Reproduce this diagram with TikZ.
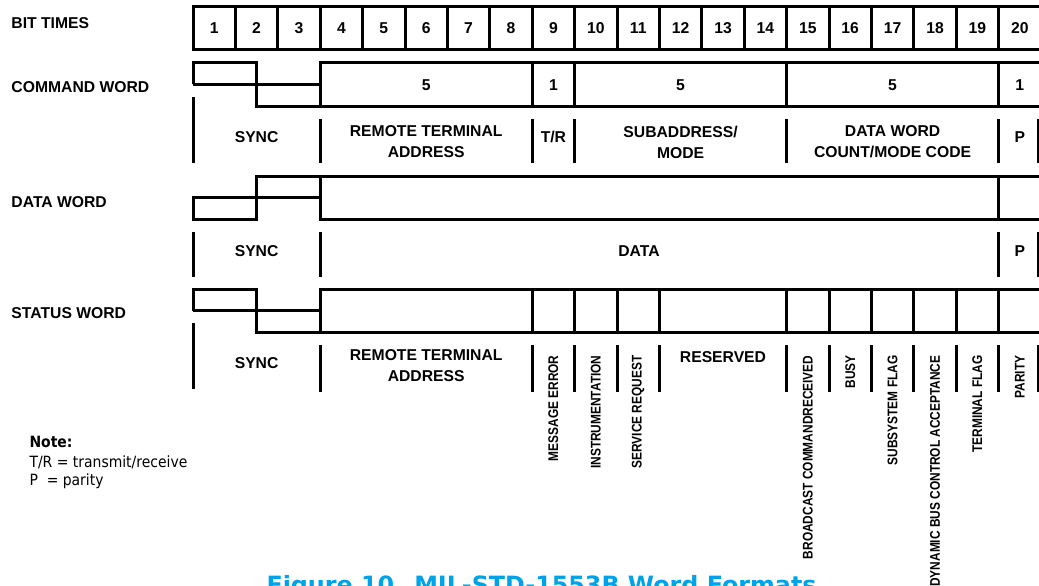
\documentclass[tikz,border=0pt]{standalone}
\usepackage{fontspec}
\setmainfont{Liberation Sans}
\newfontfamily\notefont{DejaVu Sans Condensed}
\newfontfamily\capfont{DejaVu Sans}
\definecolor{capblue}{RGB}{0,163,232}
\tikzset{
	wordlabel/.style={anchor=west, inner sep=0},
	flaglabel/.style={rotate=90, anchor=east, inner sep=0, font=\bfseries\fontsize{14}{16}\selectfont},
	notetext/.style={anchor=base west, inner sep=0, font=\notefont\fontsize{15.5}{18}\selectfont}
}
\newcommand\narrowtext[1]{\scalebox{0.85}[1]{#1}}
\begin{document}
\begin{tikzpicture}[x=1pt, y=-1pt, line width=3pt, font=\bfseries\fontsize{15.7}{21}\selectfont]
	\def\xo{193} % left edge of bit 1
	\def\w{42.4} % one bit time
	\def\xr{1038} % right bars
	\def\xe{1042} % lines run off the page
	\useasboundingbox (0,0) rectangle (1039,586);
	% bit times
	\node[wordlabel] (bittimes) at (10,23) {BIT TIMES};
	\draw (\xo,7) rectangle (\xe,50);
	\foreach \i in {1,...,20} {
		\draw ({\xo+\i*\w},7) -- ({\xo+\i*\w},50);
		\node (bit\i) at ({\xo+(\i-.5)*\w},28) {\i};
	}
	% sync waveforms: command and status start high
	\foreach \t in {63,289} {
		\draw (\xo,\t+21.5) -- (\xo,\t) -- ({\xo+1.5*\w},\t) -- ({\xo+1.5*\w},\t+43) -- (\xe,\t+43);
		\draw (\xo,\t+21.5) -- ({\xo+3*\w},\t+21.5);
		\draw ({\xo+3*\w},\t+43) -- ({\xo+3*\w},\t) -- (\xe,\t);
		\draw (\xo,\t+34) -- (\xo,\t+100);
	}
	% data word starts low
	\draw (\xo,221) -- (\xo,197) -- ({\xo+3*\w},197);
	\draw (\xo,219) -- ({\xo+1.5*\w},219) -- ({\xo+1.5*\w},176) -- (\xe,176);
	\draw ({\xo+3*\w},176) -- ({\xo+3*\w},219) -- (\xe,219);
	\draw ({\xo+19*\w},176) -- ({\xo+19*\w},219);
	% command word
	\node[wordlabel] (cmdword) at (10,87) {COMMAND WORD};
	\foreach \i in {8,9,14,19} \draw ({\xo+\i*\w},63) -- ({\xo+\i*\w},106);
	\foreach \i/\n [count=\k] in {5.5/5, 8.5/1, 11.5/5, 16.5/5, 19.5/1}
		\node (cnt\k) at ({\xo+\i*\w},85) {\n};
	\foreach \i in {3,8,9,14,19} \draw ({\xo+\i*\w},119) -- ({\xo+\i*\w},163);
	\draw (\xr,119) -- (\xr,163);
	\node (csync) at ({\xo+1.5*\w},137) {SYNC};
	\node[align=center] (crta) at ({\xo+5.5*\w},142) {REMOTE TERMINAL\\ADDRESS};
	\node (ctr) at ({\xo+8.5*\w},137) {T/R};
	\node[align=center] (csub) at ({\xo+11.5*\w},142) {SUBADDRESS/\\MODE};
	\node[align=center] (ccnt) at ({\xo+16.5*\w},142) {DATA WORD\\COUNT/MODE CODE};
	\node (cpar) at ({\xo+19.5*\w},137) {P};
	% data word
	\node[wordlabel] (dataword) at (10,202) {DATA WORD};
	\foreach \x in {\xo,{\xo+3*\w},{\xo+19*\w},\xr} \draw (\x,232) -- (\x,277);
	\node (dsync) at ({\xo+1.5*\w},251) {SYNC};
	\node (ddata) at (639,251) {DATA};
	\node (dpar) at ({\xo+19.5*\w},251) {P};
	% status word
	\node[wordlabel] (statword) at (10,313) {STATUS WORD};
	\foreach \i in {8,9,10,11,14,15,16,17,18,19} \draw ({\xo+\i*\w},289) -- ({\xo+\i*\w},332);
	\foreach \i in {3,8,9,10,11,14,15,16,17,18,19} \draw ({\xo+\i*\w},345) -- ({\xo+\i*\w},392);
	\draw (\xr,345) -- (\xr,392);
	\node (ssync) at ({\xo+1.5*\w},363) {SYNC};
	\node[align=center] (srta) at ({\xo+5.5*\w},366) {REMOTE TERMINAL\\ADDRESS};
	\node (sres) at ({\xo+12.5*\w},357) {RESERVED};
	\foreach \i/\txt in {9/MESSAGE ERROR, 10/INSTRUMENTATION, 11/SERVICE REQUEST,
		15/BROADCAST COMMANDRECEIVED, 16/BUSY, 17/SUBSYSTEM FLAG,
		18/DYNAMIC BUS CONTROL ACCEPTANCE, 19/TERMINAL FLAG, 20/PARITY}
		\node[flaglabel] (flag\i) at ({\xo+(\i-.5)*\w},354) {\narrowtext{\txt}};
	% note
	\node[notetext] (notehead) at (28,447) {\bfseries Note:};
	\node[notetext] (notetr) at (28,467) {T/R = transmit/receive};
	\node[notetext] (notep) at (28,485) {P~~= parity};
	% caption, cut by the page edge
	\node[anchor=north west, inner sep=0, text=capblue, font=\capfont\bfseries\fontsize{23.8}{28}\selectfont] (caption) at (265,574) {Figure 10. MIL-STD-1553B Word Formats};
\end{tikzpicture}
\end{document}
